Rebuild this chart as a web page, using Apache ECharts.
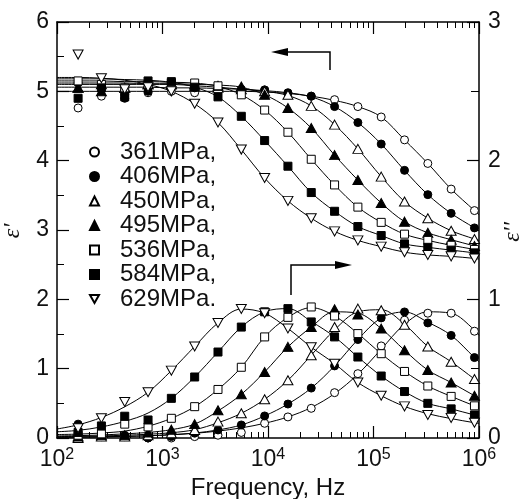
<!DOCTYPE html>
<html><head><meta charset="utf-8">
<script src="https://cdn.jsdelivr.net/npm/echarts@6/dist/echarts.min.js"></script>
<style>html,body{margin:0;padding:0;background:#fff}#c{width:526px;height:499px}</style>
</head><body><div id="c"></div>
<script>
// ---------- data ----------
const freq = [158.5, 263.6, 438.5, 729.5, 1213, 2018, 3357, 5585, 9290, 15450, 25700, 42760, 71120, 118300, 196800, 327300, 544500, 905700];
const fitFreq = [100, 158.5, 263.6, 438.5, 729.5, 1213, 2018, 3357, 5585, 9290, 15450, 25700, 42760, 71120, 118300, 196800, 327300, 544500, 905700, 1000000];
const labels = ['361MPa,', '406MPa,', '450MPa,', '495MPa,', '536MPa,', '584MPa,', '629MPa.'];

// epsilon' markers
const real361 = [4.76, 4.93, 4.95, 4.98, 5.0, 4.98, 5.0, 5.0, 5.02, 4.97, 4.93, 4.88, 4.78, 4.63, 4.30, 3.96, 3.59, 3.28];
const real406 = [5.12, 5.05, 4.90, 5.0, 5.05, 5.05, 5.05, 5.03, 5.02, 4.98, 4.93, 4.78, 4.55, 4.24, 3.86, 3.51, 3.24, 3.03];
const real450 = [5.05, 5.10, 5.05, 5.10, 5.10, 5.08, 5.05, 5.03, 5.0, 4.95, 4.79, 4.52, 4.17, 3.77, 3.41, 3.17, 2.99, 2.87];
const real495 = [5.05, 5.0, 5.05, 5.1, 5.1, 5.1, 5.08, 5.07, 4.95, 4.76, 4.47, 4.08, 3.72, 3.39, 3.12, 2.96, 2.86, 2.77];
const real536 = [5.15, 5.1, 5.05, 5.1, 5.12, 5.12, 5.08, 4.95, 4.73, 4.41, 4.02, 3.65, 3.33, 3.11, 2.94, 2.85, 2.78, 2.72];
const real584 = [4.9, 5.05, 4.92, 5.15, 5.14, 5.06, 4.92, 4.64, 4.29, 3.92, 3.54, 3.27, 3.05, 2.92, 2.80, 2.75, 2.71, 2.67];
const real629 = [5.53, 5.19, 5.03, 5.06, 5.0, 4.82, 4.55, 4.16, 3.75, 3.42, 3.17, 2.98, 2.85, 2.76, 2.68, 2.64, 2.62, 2.59];

// epsilon'' markers
const imag361 = [0.02, 0.01, 0.01, 0.0, 0.0, 0.01, 0.02, 0.04, 0.106, 0.152, 0.214, 0.327, 0.464, 0.664, 0.85, 0.90, 0.90, 0.77];
const imag406 = [0.10, 0.03, 0.02, 0.0, 0.01, 0.035, 0.058, 0.094, 0.159, 0.245, 0.36, 0.52, 0.71, 0.866, 0.909, 0.83, 0.74, 0.58];
const imag450 = [0.0, 0.01, 0.01, 0.02, 0.034, 0.058, 0.118, 0.178, 0.279, 0.416, 0.597, 0.80, 0.933, 0.921, 0.817, 0.66, 0.55, 0.425];
const imag495 = [0.01, 0.02, 0.02, 0.04, 0.06, 0.10, 0.20, 0.315, 0.476, 0.657, 0.80, 0.928, 0.89, 0.789, 0.633, 0.49, 0.40, 0.305];
const imag536 = [0.02, 0.03, 0.10, 0.08, 0.142, 0.226, 0.35, 0.51, 0.729, 0.87, 0.945, 0.88, 0.753, 0.608, 0.48, 0.375, 0.30, 0.232];
const imag584 = [0.04, 0.087, 0.157, 0.13, 0.286, 0.44, 0.62, 0.80, 0.91, 0.933, 0.837, 0.729, 0.584, 0.447, 0.335, 0.25, 0.21, 0.166];
const imag629 = [0.07, 0.142, 0.26, 0.33, 0.486, 0.66, 0.83, 0.93, 0.90, 0.79, 0.655, 0.536, 0.40, 0.305, 0.228, 0.166, 0.145, 0.11];

// fitted curves (at fitFreq)
const fitReal361 = [5.0, 5.0, 5.0, 5.0, 5.0, 5.0, 5.0, 5.0, 5.0, 4.99, 4.97, 4.93, 4.87, 4.78, 4.63, 4.30, 3.96, 3.59, 3.28, 3.22];
const fitReal406 = [5.06, 5.06, 5.06, 5.06, 5.06, 5.05, 5.05, 5.04, 5.03, 5.01, 4.98, 4.92, 4.78, 4.55, 4.24, 3.86, 3.51, 3.24, 3.03, 2.99];
const fitReal450 = [5.1, 5.1, 5.1, 5.1, 5.1, 5.1, 5.08, 5.06, 5.03, 5.0, 4.94, 4.79, 4.52, 4.17, 3.77, 3.41, 3.17, 2.99, 2.87, 2.85];
const fitReal495 = [5.12, 5.12, 5.12, 5.12, 5.11, 5.11, 5.1, 5.09, 5.06, 4.95, 4.76, 4.47, 4.08, 3.72, 3.39, 3.12, 2.96, 2.86, 2.77, 2.75];
const fitReal536 = [5.15, 5.15, 5.15, 5.14, 5.14, 5.13, 5.12, 5.07, 4.95, 4.73, 4.41, 4.02, 3.65, 3.33, 3.11, 2.94, 2.85, 2.78, 2.72, 2.71];
const fitReal584 = [5.18, 5.18, 5.18, 5.17, 5.16, 5.13, 5.06, 4.92, 4.64, 4.29, 3.92, 3.54, 3.27, 3.05, 2.92, 2.80, 2.75, 2.71, 2.67, 2.66];
const fitReal629 = [5.2, 5.2, 5.19, 5.16, 5.1, 5.0, 4.82, 4.55, 4.16, 3.75, 3.42, 3.17, 2.98, 2.85, 2.76, 2.68, 2.64, 2.62, 2.59, 2.58];

const fitImag361 = [0.005, 0.006, 0.008, 0.011, 0.016, 0.023, 0.034, 0.05, 0.073, 0.106, 0.152, 0.22, 0.32, 0.46, 0.64, 0.82, 0.91, 0.90, 0.78, 0.74];
const fitImag406 = [0.006, 0.007, 0.009, 0.012, 0.016, 0.024, 0.036, 0.058, 0.094, 0.159, 0.245, 0.36, 0.52, 0.71, 0.866, 0.909, 0.835, 0.74, 0.58, 0.55];
const fitImag450 = [0.01, 0.012, 0.015, 0.02, 0.027, 0.038, 0.06, 0.11, 0.178, 0.279, 0.416, 0.597, 0.78, 0.91, 0.925, 0.82, 0.66, 0.55, 0.425, 0.40];
const fitImag495 = [0.015, 0.017, 0.022, 0.03, 0.04, 0.06, 0.10, 0.195, 0.315, 0.476, 0.657, 0.80, 0.91, 0.90, 0.789, 0.633, 0.49, 0.40, 0.305, 0.29];
const fitImag536 = [0.025, 0.028, 0.036, 0.05, 0.085, 0.142, 0.226, 0.35, 0.51, 0.729, 0.87, 0.94, 0.88, 0.753, 0.608, 0.48, 0.375, 0.30, 0.232, 0.22];
const fitImag584 = [0.045, 0.055, 0.08, 0.12, 0.18, 0.286, 0.44, 0.62, 0.80, 0.91, 0.933, 0.84, 0.729, 0.584, 0.447, 0.335, 0.25, 0.21, 0.166, 0.16];
const fitImag629 = [0.065, 0.095, 0.148, 0.225, 0.33, 0.486, 0.66, 0.83, 0.93, 0.90, 0.79, 0.655, 0.536, 0.40, 0.305, 0.228, 0.175, 0.14, 0.11, 0.105];

const majorTicks = [100, 1000, 10000, 100000, 1000000];
const minorTicks = [200,300,400,500,600,700,800,900, 2000,3000,4000,5000,6000,7000,8000,9000,
  20000,30000,40000,50000,60000,70000,80000,90000, 200000,300000,400000,500000,600000,700000,800000,900000];

// ---------- styling ----------
const FONT = "'Liberation Sans', Arial, sans-serif";
const SERIF = "'Liberation Serif', 'DejaVu Serif', serif";
const INK = '#111';
const DOWN_TRIANGLE = 'path://M0,0L10,0L5,9Z';
const realSets = [real361, real406, real450, real495, real536, real584, real629];
const imagSets = [imag361, imag406, imag450, imag495, imag536, imag584, imag629];
const fitRealSets = [fitReal361, fitReal406, fitReal450, fitReal495, fitReal536, fitReal584, fitReal629];
const fitImagSets = [fitImag361, fitImag406, fitImag450, fitImag495, fitImag536, fitImag584, fitImag629];
const markerStyles = [
  {symbol: 'circle', size: 8, fill: '#fff'},
  {symbol: 'circle', size: 8, fill: '#000'},
  {symbol: 'triangle', size: [10, 9], fill: '#fff'},
  {symbol: 'triangle', size: [10, 9], fill: '#000'},
  {symbol: 'rect', size: 8, fill: '#fff'},
  {symbol: 'rect', size: 8, fill: '#000'},
  {symbol: DOWN_TRIANGLE, size: [10, 9], fill: '#fff'}
];

const series = [];
labels.forEach((name, k) => {
  const st = markerStyles[k];
  const pts = (vals) => freq.map((f, i) => [f, vals[i]]);
  const fit = (vals) => fitFreq.map((f, i) => [f, vals[i]]);
  [[fitRealSets[k], 0], [fitImagSets[k], 1]].forEach(([v, ax]) => {
    series.push({
      type: 'line', name: name + ' fit', xAxisIndex: 0, yAxisIndex: ax,
      data: fit(v), smooth: 0.35, showSymbol: false, silent: true, z: 2,
      lineStyle: {color: '#000', width: 1}
    });
  });
  [[realSets[k], 0], [imagSets[k], 1]].forEach(([v, ax]) => {
    series.push({
      type: 'scatter', name: name, xAxisIndex: 0, yAxisIndex: ax,
      data: pts(v), symbol: st.symbol, symbolSize: st.size, z: 3,
      itemStyle: {color: st.fill, borderColor: '#000', borderWidth: 1, opacity: 1}
    });
  });
});

const supDigits = v => Math.round(Math.log10(v));
const xBase = {
  type: 'log', logBase: 10, min: 100, max: 1000000, gridIndex: 0,
  splitLine: {show: false}, minorTick: {show: false}, minorSplitLine: {show: false}
};

const option = {
  backgroundColor: '#fff',
  animation: false,
  grid: {left: 57, right: 47, top: 22, bottom: 61, containLabel: false, outerBoundsMode: 'none'},
  legend: {
    data: labels, orient: 'vertical', left: 89, top: 140, padding: 0, itemGap: 0.5,
    itemWidth: 9, itemHeight: 9, selectedMode: false,
    textStyle: {fontSize: 24, fontFamily: FONT, color: INK, padding: [0, 0, 0, 16], lineHeight: 24}
  },
  xAxis: [
    Object.assign({}, xBase, {
      position: 'bottom',
      name: 'Frequency, Hz', nameLocation: 'middle', nameGap: 38,
      nameTextStyle: {fontSize: 24, fontFamily: FONT, color: INK},
      axisLine: {show: true, onZero: false, lineStyle: {color: '#000', width: 1.5}},
      axisTick: {show: true, inside: true, length: 12, customValues: majorTicks, lineStyle: {color: '#000', width: 1.2}},
      axisLabel: {
        show: true, margin: 9, customValues: majorTicks, showMinLabel: true, showMaxLabel: true,
        formatter: v => '{b|10}{s|' + supDigits(v) + '}',
        rich: {
          b: {fontSize: 23, fontFamily: FONT, color: INK},
          s: {fontSize: 16, fontFamily: FONT, color: INK, padding: [0, 0, 10, 0]}
        }
      }
    }),
    Object.assign({}, xBase, {
      position: 'bottom',
      axisLine: {show: false, onZero: false},
      axisTick: {show: true, inside: true, length: 6, customValues: minorTicks, lineStyle: {color: '#000', width: 1}},
      axisLabel: {show: false}
    }),
    Object.assign({}, xBase, {
      position: 'top',
      axisLine: {show: true, onZero: false, lineStyle: {color: '#000', width: 1.5}},
      axisTick: {show: true, inside: true, length: 12, customValues: majorTicks, lineStyle: {color: '#000', width: 1.2}},
      axisLabel: {show: false}
    }),
    Object.assign({}, xBase, {
      position: 'top',
      axisLine: {show: false, onZero: false},
      axisTick: {show: true, inside: true, length: 6, customValues: minorTicks, lineStyle: {color: '#000', width: 1}},
      axisLabel: {show: false}
    })
  ],
  yAxis: [
    {
      type: 'value', position: 'left', min: 0, max: 6, interval: 1,
      axisLine: {show: true, onZero: false, lineStyle: {color: '#000', width: 1.5}},
      axisTick: {show: true, inside: true, length: 12, lineStyle: {color: '#000', width: 1.2}},
      minorTick: {show: true, splitNumber: 2, length: 7, lineStyle: {color: '#000', width: 1}},
      splitLine: {show: false},
      axisLabel: {margin: 8, fontSize: 23, fontFamily: FONT, color: INK}
    },
    {
      type: 'value', position: 'right', min: 0, max: 3, interval: 1,
      axisLine: {show: true, onZero: false, lineStyle: {color: '#000', width: 1.5}},
      axisTick: {show: true, inside: true, length: 12, lineStyle: {color: '#000', width: 1.2}},
      minorTick: {show: true, splitNumber: 2, length: 8, lineStyle: {color: '#000', width: 1}},
      splitLine: {show: false},
      axisLabel: {margin: 9, fontSize: 23, fontFamily: FONT, color: INK}
    }
  ],
  graphic: [
    {type: 'text', x: 13, y: 231, rotation: Math.PI / 2,
      style: {text: "ε'", fontSize: 24, fontFamily: SERIF, fontStyle: 'italic', fill: INK, align: 'center', verticalAlign: 'middle'}},
    {type: 'text', x: 513, y: 232, rotation: Math.PI / 2,
      style: {text: "ε''", fontSize: 24, fontFamily: SERIF, fontStyle: 'italic', fill: INK, align: 'center', verticalAlign: 'middle'}},
    {type: 'polyline', shape: {points: [[330, 70], [330, 52], [286, 52]]}, style: {stroke: '#000', lineWidth: 1.5, fill: null}, z: 10},
    {type: 'polygon', shape: {points: [[271, 52], [288, 48], [288, 56]]}, style: {fill: '#000'}, z: 10},
    {type: 'polyline', shape: {points: [[291, 295], [291, 265], [337, 265]]}, style: {stroke: '#000', lineWidth: 1.5, fill: null}, z: 10},
    {type: 'polygon', shape: {points: [[352, 265], [335, 261], [335, 269]]}, style: {fill: '#000'}, z: 10}
  ],
  series: series
};

const chart = echarts.init(document.getElementById('c'), null, {renderer: 'canvas'});
chart.setOption(option);
</script>
</body></html>
